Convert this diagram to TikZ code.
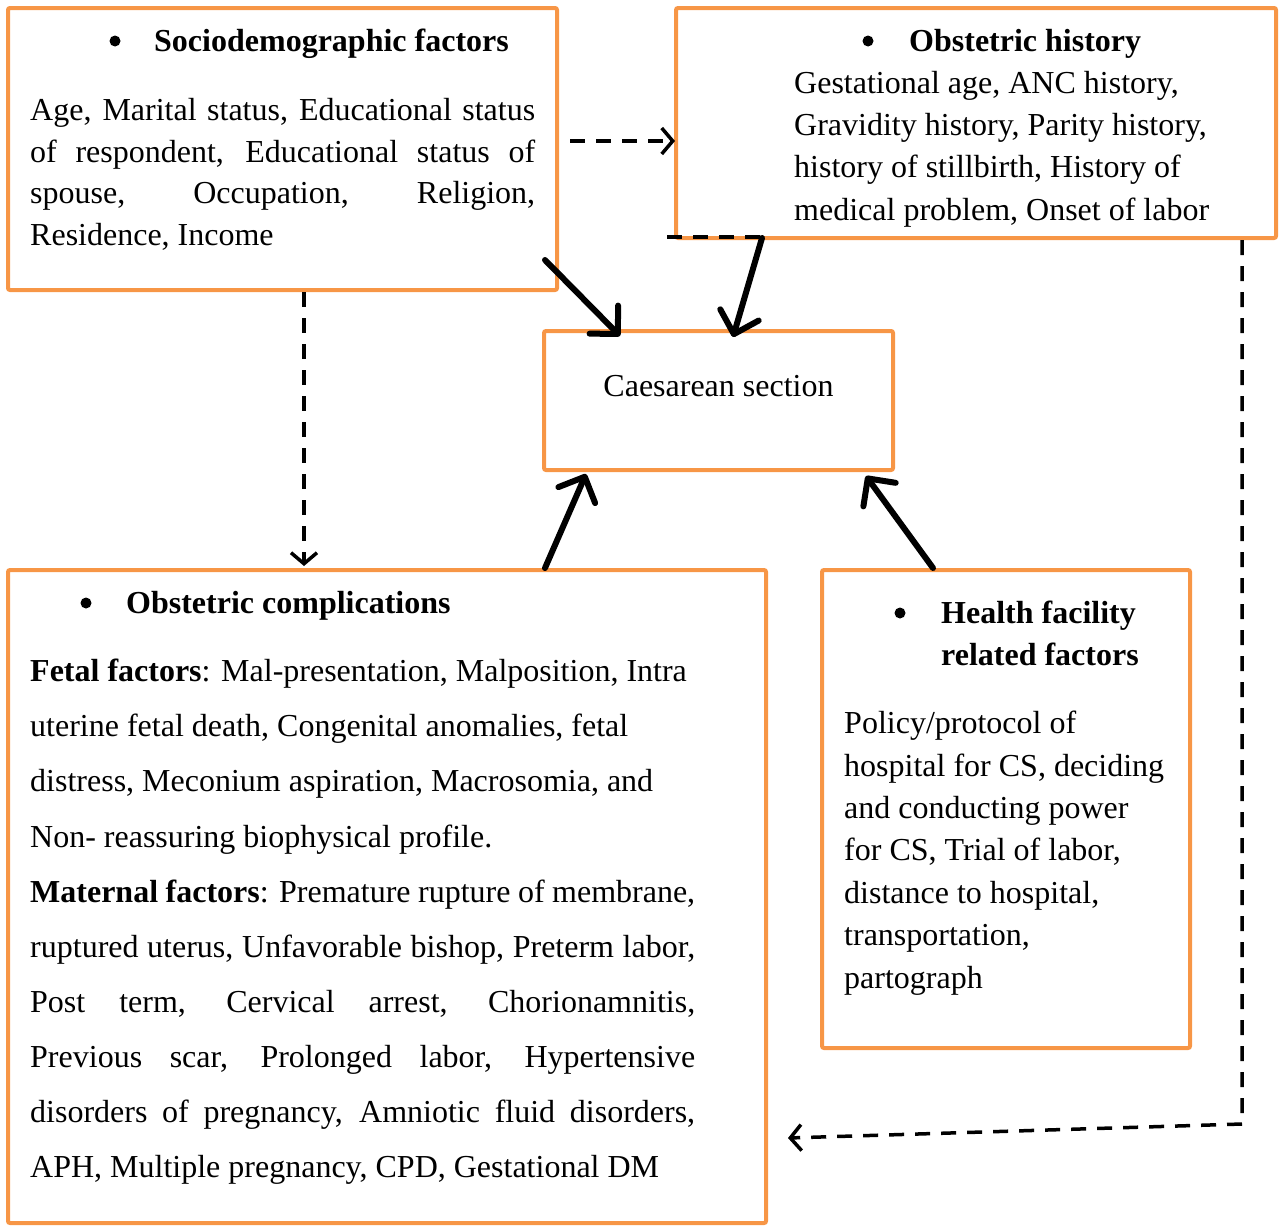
\documentclass[tikz,border=0pt]{standalone}
\usepackage{fontspec}
\setmainfont{Liberation Serif}
\usetikzlibrary{arrows.meta,calc}
\definecolor{boxorange}{HTML}{F79646}
\begin{document}
\begin{tikzpicture}[x=1pt,y=-1pt,
  frame/.style={draw=boxorange, line width=4pt, rounded corners=2pt, inner sep=0pt},
  txt/.style={anchor=base west, inner sep=0pt, font=\fontsize{32}{38}\selectfont},
  ctxt/.style={anchor=base, inner sep=0pt, font=\fontsize{32}{38}\selectfont},
  bulletdot/.style={circle, fill=black, inner sep=0pt, minimum size=11pt},
  solidarrow/.style={line width=6pt, line cap=round, -{Straight Barb[length=20pt,width=40pt,round]}},
  dasharrow/.style={line width=3.5pt, dash pattern=on 15pt off 11pt, -{Straight Barb[length=11pt,width=26pt]}},
  dashline/.style={line width=3.5pt, dash pattern=on 15pt off 11pt}]
\useasboundingbox (0,0) rectangle (1279,1226);

% boxes
\node[frame, minimum width=549pt, minimum height=282pt] (soc) at (282.5,149) {};
\node[frame, minimum width=600pt, minimum height=230pt] (obh) at (976,123) {};
\node[frame, minimum width=349pt, minimum height=139pt] (cs) at (718.5,400.5) {};
\node[frame, minimum width=758pt, minimum height=653pt] (oc) at (387,896.5) {};
\node[frame, minimum width=368pt, minimum height=478pt] (hf) at (1006,809) {};

% Sociodemographic
\node[bulletdot] (socb) at (115,41) {};
\node[txt] (soct) at (154,51) {\textbf{Sociodemographic factors}};
\node[txt] (soc1) at (30,120) {\makebox[505pt][s]{Age, Marital status, Educational status}};
\node[txt] (soc2) at (30,162) {\makebox[505pt][s]{of respondent, Educational status of}};
\node[txt] (soc3) at (30,203) {\makebox[505pt][s]{spouse, Occupation, Religion,}};
\node[txt] (soc4) at (30,245) {Residence, Income};

% Obstetric history
\node[bulletdot] (obhb) at (868,41) {};
\node[txt] (obht) at (909,51) {\textbf{Obstetric history}};
\node[txt] (obh1) at (794,93) {Gestational age, ANC history,};
\node[txt] (obh2) at (794,135) {Gravidity history, Parity history,};
\node[txt] (obh3) at (794,177) {history of stillbirth, History of};
\node[txt] (obh4) at (794,220) {medical problem, Onset of labor};

% Caesarean section
\node[ctxt] (cst) at (718.5,396) {Caesarean section};

% Obstetric complications
\node[bulletdot] (ocb) at (86,603) {};
\node[txt] (oct) at (126,613) {\textbf{Obstetric complications}};
\node[txt] (oc1) at (30,681) {\textbf{Fetal factors}: Mal-presentation, Malposition, Intra};
\node[txt] (oc2) at (30,736) {uterine fetal death, Congenital anomalies, fetal};
\node[txt] (oc3) at (30,791) {distress, Meconium aspiration, Macrosomia, and};
\node[txt] (oc4) at (30,847) {Non- reassuring biophysical profile.};
\node[txt] (oc5) at (30,902) {\makebox[665pt][s]{\textbf{Maternal factors}: Premature rupture of membrane,}};
\node[txt] (oc6) at (30,957) {\makebox[665pt][s]{ruptured uterus, Unfavorable bishop, Preterm labor,}};
\node[txt] (oc7) at (30,1012) {\makebox[665pt][s]{Post term, Cervical arrest, Chorionamnitis,}};
\node[txt] (oc8) at (30,1067) {\makebox[665pt][s]{Previous scar, Prolonged labor, Hypertensive}};
\node[txt] (oc9) at (30,1122) {\makebox[665pt][s]{disorders of pregnancy, Amniotic fluid disorders,}};
\node[txt] (oc10) at (30,1177) {APH, Multiple pregnancy, CPD, Gestational DM};

% Health facility
\node[bulletdot] (hfb) at (900,613) {};
\node[txt] (hft1) at (941,623) {\textbf{Health facility}};
\node[txt] (hft2) at (941,665) {\textbf{related factors}};
\node[txt] (hf1) at (844,733) {Policy/protocol of};
\node[txt] (hf2) at (844,776) {hospital for CS, deciding};
\node[txt] (hf3) at (844,818) {and conducting power};
\node[txt] (hf4) at (844,860) {for CS, Trial of labor,};
\node[txt] (hf5) at (844,903) {distance to hospital,};
\node[txt] (hf6) at (844,945) {transportation,};
\node[txt] (hf7) at (844,988) {partograph};

% connector end points
\coordinate (a1s) at (545,260);  \coordinate (a1e) at (620,336);
\coordinate (a2s) at (762,238);  \coordinate (a2e) at (733,337);
\coordinate (a3s) at (545,568);  \coordinate (a3e) at (586,474);
\coordinate (a4s) at (933,568);  \coordinate (a4e) at (866,476);
\coordinate (d1s) at (570,141);  \coordinate (d1e) at (675,141);
\coordinate (d2s) at (304,292);  \coordinate (d2e) at (304,566);
\coordinate (d3s) at (1242,240); \coordinate (d3m) at (1242,1124); \coordinate (d3e) at (788,1138);
\coordinate (d4s) at (667,237);  \coordinate (d4e) at (765,237);

% connectors
\draw[solidarrow] (a1s) -- (a1e);
\draw[solidarrow] (a2s) -- (a2e);
\draw[solidarrow] (a3s) -- (a3e);
\draw[solidarrow] (a4s) -- (a4e);
\draw[dasharrow] (d1s) -- (d1e);
\draw[dasharrow] (d2s) -- (d2e);
\draw[dasharrow] (d3s) -- (d3m) -- (d3e);
\draw[dashline] (d4s) -- (d4e);
\end{tikzpicture}
\end{document}
